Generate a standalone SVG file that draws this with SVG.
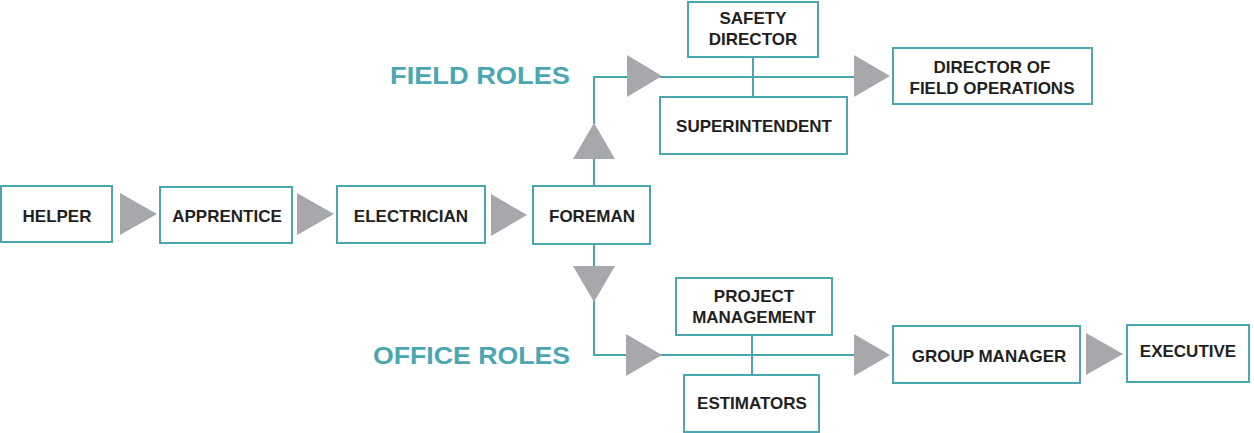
<svg xmlns="http://www.w3.org/2000/svg" width="1254" height="433" viewBox="0 0 1254 433">
<style>
.box{fill:#fff;stroke:#4aa7b2;stroke-width:2}
.lbl{font-family:"Liberation Sans",Arial,sans-serif;font-weight:bold;font-size:17px;fill:#231f20;text-anchor:middle}
.line{fill:none;stroke:#4aa7b2;stroke-width:2}
.tri{fill:#a6a8ab}
.sec{font-family:"Liberation Sans",Arial,sans-serif;font-weight:bold;font-size:23px;fill:#4aa7b2}
</style>
<rect width="1254" height="433" fill="#fff"/>
<g id="connectors">
<polyline class="line" points="594,186 594,158"/>
<polyline class="line" points="594,124 594,77 854,77"/>
<polyline class="line" points="753,57 753,97"/>
<polyline class="line" points="594,244 594,266"/>
<polyline class="line" points="594,300 594,355 854,355"/>
<polyline class="line" points="752,335 752,375"/>
<polygon class="tri" points="120,193 157,214 120,235"/>
<polygon class="tri" points="297,193 334,214 297,235"/>
<polygon class="tri" points="491,194 527,215 491,236"/>
<polygon class="tri" points="573,159 594,123 615,159"/>
<polygon class="tri" points="573,266 615,266 594,302"/>
<polygon class="tri" points="627,55 662,76 627,97"/>
<polygon class="tri" points="854,55 890,76 854,97"/>
<polygon class="tri" points="626,334 662,355 626,376"/>
<polygon class="tri" points="854,334 890,355 854,376"/>
<polygon class="tri" points="1086,333 1123,354 1086,375"/>
</g>
<text class="sec" x="390" y="84" textLength="180" lengthAdjust="spacingAndGlyphs">FIELD ROLES</text>
<text class="sec" x="373" y="364" textLength="197" lengthAdjust="spacingAndGlyphs">OFFICE ROLES</text>
<g id="helper"><rect class="box" x="1" y="186" width="111" height="56"/><text class="lbl" x="57" y="222">HELPER</text></g>
<g id="apprentice"><rect class="box" x="160" y="187" width="132" height="56"/><text class="lbl" x="227" y="222">APPRENTICE</text></g>
<g id="electrician"><rect class="box" x="337" y="186" width="148" height="57"/><text class="lbl" x="411" y="222">ELECTRICIAN</text></g>
<g id="foreman"><rect class="box" x="533" y="186" width="117" height="58"/><text class="lbl" x="592" y="222">FOREMAN</text></g>
<g id="safety-director"><rect class="box" x="688" y="2" width="130" height="55"/><text class="lbl" x="753" y="24">SAFETY</text><text class="lbl" x="753" y="45">DIRECTOR</text></g>
<g id="superintendent"><rect class="box" x="660" y="97" width="187" height="57"/><text class="lbl" x="754" y="132">SUPERINTENDENT</text></g>
<g id="director-field-ops"><rect class="box" x="893" y="48" width="199" height="56"/><text class="lbl" x="992" y="73">DIRECTOR OF</text><text class="lbl" x="992" y="94">FIELD OPERATIONS</text></g>
<g id="project-management"><rect class="box" x="676" y="278" width="156" height="57"/><text class="lbl" x="754" y="302">PROJECT</text><text class="lbl" x="754" y="323">MANAGEMENT</text></g>
<g id="estimators"><rect class="box" x="684" y="375" width="135" height="57"/><text class="lbl" x="752" y="409">ESTIMATORS</text></g>
<g id="group-manager"><rect class="box" x="893" y="326" width="187" height="57"/><text class="lbl" x="989" y="362">GROUP MANAGER</text></g>
<g id="executive"><rect class="box" x="1127" y="325" width="122" height="57"/><text class="lbl" x="1188" y="357">EXECUTIVE</text></g>
</svg>
